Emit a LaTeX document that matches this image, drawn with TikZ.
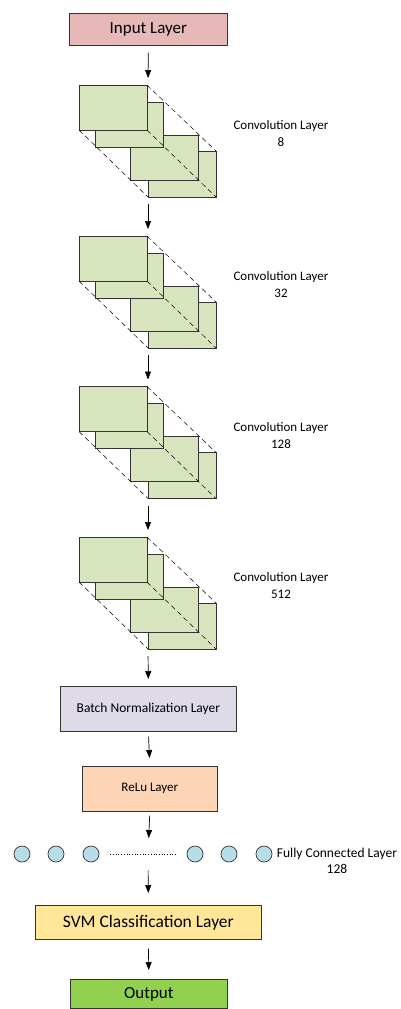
\documentclass[tikz,border=0pt]{standalone}
\usepackage{fontspec}
\setmainfont{Carlito}
\usetikzlibrary{arrows.meta}
\definecolor{cin}{HTML}{E6B9B8}
\definecolor{cconv}{HTML}{D7E4BD}
\definecolor{cbn}{HTML}{DEDAE8}
\definecolor{crelu}{HTML}{FBD5B5}
\definecolor{cfc}{HTML}{B7DEE8}
\definecolor{csvm}{HTML}{FFE699}
\definecolor{cout}{HTML}{92D050}
\tikzset{
  layer/.style={draw=black!80, line width=0.7pt, minimum height=#1, inner sep=0pt, anchor=north west},
  arr/.style={-{Triangle[width=6pt,length=8pt]}, line width=0.7pt, shorten <=7pt, shorten >=7pt},
  fmap/.style={draw=black!80, line width=0.7pt, fill=cconv},
  diag/.style={dashed, dash pattern=on 5pt off 3.5pt, line width=0.5pt},
  neuron/.style={circle, draw=black!80, line width=0.7pt, fill=cfc, minimum size=16pt, inner sep=0pt},
  lbl/.style={align=center, font=\fontsize{13}{17}\selectfont}
}
\begin{document}
\begin{tikzpicture}[x=1pt,y=-1pt]
\useasboundingbox (0,0) rectangle (400,1009);
% input
\node[layer=32pt, minimum width=158pt, fill=cin, font=\fontsize{17}{20}\selectfont] (in) at (69,13) {Input Layer};
% conv blocks
\foreach \i/\t/\n in {1/85/8, 2/236/32, 3/386.5/128, 4/537/512}{
  \begin{scope}[yshift=-(\t-85)*1pt]
    \draw[fmap] (148,151) rectangle (216,197);
    \draw[fmap] (130,135) rectangle (198,180);
    \draw[fmap] (95,102) rectangle (163,147);
    \draw[fmap] (79,85) rectangle (147,130);
    \draw[diag] (147,85) -- (216,151);
    \draw[diag] (79,130) -- (148,197);
    \draw[diag] (147,130) -- (216,197);
    \coordinate (c\i t) at (148,85);
    \coordinate (c\i b) at (148,197);
    \node[lbl] (l\i) at (281,134) {Convolution Layer\\\n};
  \end{scope}
}
% batch norm
\node[layer=45pt, minimum width=176pt, fill=cbn, font=\fontsize{13.5}{16}\selectfont] (bn) at (60,686) {Batch Normalization Layer};
\node[layer=45pt, minimum width=135pt, fill=crelu, font=\fontsize{13}{16}\selectfont] (relu) at (82,766) {ReLu Layer};
% fully connected
\foreach \k/\x in {1/22,2/56,3/91,4/195,5/229,6/264}{
  \node[neuron] (n\k) at (\x,854) {};
}
\draw[dotted, line width=0.7pt] ([xshift=11pt]n3.east) -- ([xshift=-11pt]n4.west);
\coordinate (fc) at (148,854);
\node[lbl, font=\fontsize{13.5}{16}\selectfont] (fcl) at (337,861) {Fully Connected Layer\\128};
\node[layer=34pt, minimum width=226pt, fill=csvm, font=\fontsize{17.5}{20}\selectfont] (svm) at (35,905) {SVM Classification Layer};
\node[layer=29pt, minimum width=157pt, fill=cout, font=\fontsize{17}{20}\selectfont] (out) at (70,979) {Output};
% arrows
\draw[arr] (in.south) -- (c1t);
\draw[arr] (c1b) -- (c2t);
\draw[arr] (c2b) -- (c3t);
\draw[arr] (c3b) -- (c4t);
\draw[arr] (c4b) -- (bn.north);
\draw[arr, shorten <=5pt, shorten >=8pt] (bn.south) -- (relu.north);
\draw[arr, shorten <=4pt, shorten >=16pt] (relu.south) -- (fc);
\draw[arr, shorten <=16pt, shorten >=12pt] (fc) -- (svm.north);
\draw[arr, shorten <=9pt, shorten >=9pt] (svm.south) -- (out.north);
\end{tikzpicture}
\end{document}
